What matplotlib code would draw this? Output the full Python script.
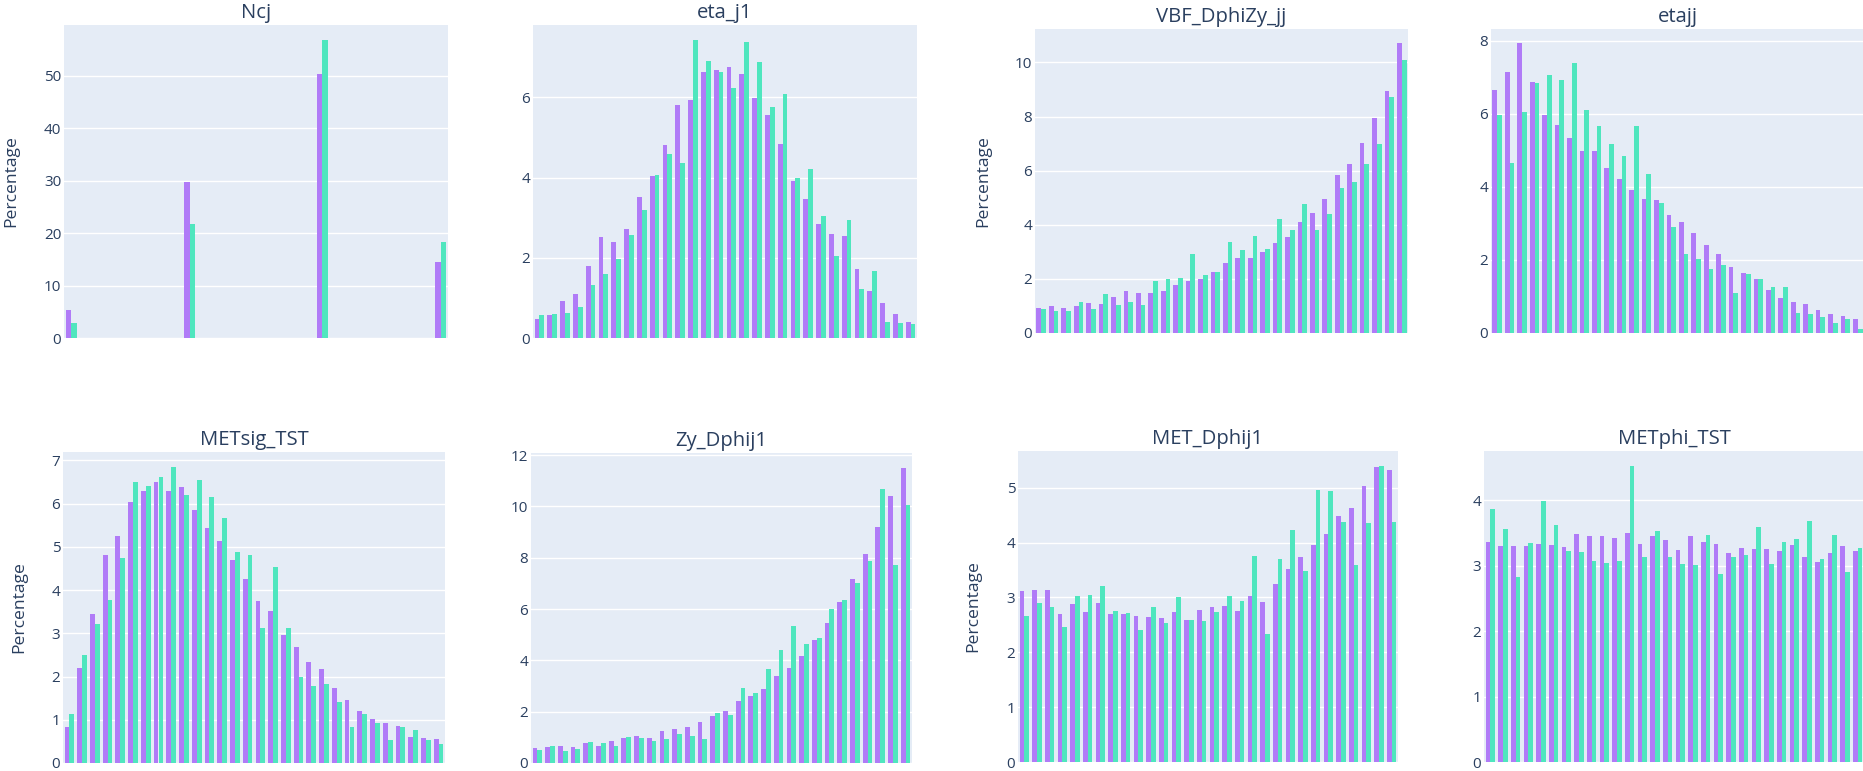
import matplotlib.pyplot as plt
import numpy as np
from matplotlib.ticker import MultipleLocator

plt.rcParams['font.family'] = ['Open Sans', 'DejaVu Sans']

W, H = 1863, 771
TXT = '#2a3f5f'
BG = '#e5ecf6'
C1 = '#b07bf7'
C2 = '#4fe6be'

titles = ["Ncj", "eta_j1", "VBF_DphiZy_jj", "etajj",
          "METsig_TST", "Zy_Dphij1", "MET_Dphij1", "METphi_TST"]

# percentage per bin, two samples per variable
ncj_1 = [5.3, 0, 0, 0, 0, 0, 0, 0, 29.8, 0, 0, 0, 0, 0, 0, 0, 0, 50.3, 0, 0, 0, 0, 0, 0, 0, 14.5]
ncj_2 = [2.9, 0, 0, 0, 0, 0, 0, 0, 21.8, 0, 0, 0, 0, 0, 0, 0, 0, 56.8, 0, 0, 0, 0, 0, 0, 0, 18.3]

eta_j1_1 = [0.47, 0.58, 0.93, 1.09, 1.80, 2.52, 2.40, 2.72, 3.52, 4.03,
            4.81, 5.81, 5.92, 6.64, 6.69, 6.76, 6.58, 5.98, 5.57, 4.84,
            3.92, 3.47, 2.83, 2.60, 2.53, 1.73, 1.17, 0.88, 0.59, 0.40]
eta_j1_2 = [0.58, 0.61, 0.63, 0.78, 1.32, 1.59, 1.97, 2.57, 3.19, 4.07,
            4.59, 4.37, 7.43, 6.91, 6.63, 6.23, 7.37, 6.88, 5.75, 6.07,
            3.98, 4.21, 3.03, 2.04, 2.94, 1.21, 1.67, 0.39, 0.37, 0.34]

vbf_1 = [0.94, 1.01, 0.93, 1.00, 1.10, 1.07, 1.32, 1.56, 1.49, 1.47,
         1.54, 1.79, 1.91, 1.99, 2.25, 2.59, 2.77, 2.79, 3.01, 3.31,
         3.56, 4.12, 4.44, 4.94, 5.85, 6.25, 7.01, 7.94, 8.96, 10.70]
vbf_2 = [0.90, 0.80, 0.80, 1.14, 0.90, 1.43, 1.05, 1.14, 1.05, 1.91,
         2.01, 2.05, 2.93, 2.16, 2.25, 3.36, 3.06, 3.60, 3.12, 4.23,
         3.80, 4.77, 3.80, 4.38, 5.35, 5.58, 6.25, 6.99, 8.72, 10.08]

etajj_1 = [6.65, 7.15, 7.92, 6.86, 5.97, 5.68, 5.33, 4.99, 4.98, 4.52,
           4.21, 3.91, 3.67, 3.63, 3.24, 3.03, 2.74, 2.40, 2.16, 1.81,
           1.64, 1.47, 1.17, 0.97, 0.85, 0.79, 0.62, 0.52, 0.47, 0.39]
etajj_2 = [5.95, 4.64, 6.05, 6.84, 7.05, 6.92, 7.38, 6.09, 5.65, 5.16,
           4.85, 5.65, 4.34, 3.56, 2.90, 2.15, 2.03, 1.76, 1.85, 1.10,
           1.62, 1.47, 1.26, 1.26, 0.56, 0.51, 0.43, 0.26, 0.37, 0.10]

metsig_1 = [0.83, 2.20, 3.44, 4.80, 5.26, 6.03, 6.29, 6.50, 6.30, 6.38,
            5.86, 5.44, 5.14, 4.69, 4.26, 3.74, 3.51, 2.97, 2.69, 2.33,
            2.18, 1.74, 1.46, 1.21, 1.02, 0.92, 0.85, 0.60, 0.57, 0.55]
metsig_2 = [1.14, 2.50, 3.21, 3.77, 4.75, 6.51, 6.41, 6.61, 6.85, 6.19,
            6.55, 6.15, 5.67, 4.87, 4.81, 3.13, 4.54, 3.12, 2.00, 1.78,
            1.82, 1.42, 0.83, 1.14, 0.93, 0.53, 0.84, 0.77, 0.53, 0.45]

zy_1 = [0.59, 0.62, 0.68, 0.64, 0.77, 0.65, 0.87, 0.96, 1.04, 0.96,
        1.26, 1.34, 1.41, 1.58, 1.84, 2.02, 2.43, 2.60, 2.90, 3.41,
        3.72, 4.17, 4.79, 5.44, 6.28, 7.16, 8.15, 9.22, 10.39, 11.51]
zy_2 = [0.49, 0.66, 0.47, 0.56, 0.81, 0.77, 0.65, 1.01, 0.99, 0.86,
        0.94, 1.12, 1.04, 0.94, 1.93, 1.89, 2.93, 2.73, 3.66, 4.40,
        5.34, 4.62, 4.88, 6.00, 6.35, 7.02, 7.89, 10.70, 7.70, 10.04]

metdphi_1 = [3.12, 3.13, 3.14, 2.69, 2.88, 2.74, 2.89, 2.70, 2.70, 2.66,
             2.65, 2.62, 2.74, 2.58, 2.78, 2.82, 2.85, 2.76, 3.02, 2.91,
             3.25, 3.52, 3.74, 3.95, 4.15, 4.49, 4.63, 5.04, 5.38, 5.32]
metdphi_2 = [2.67, 2.90, 2.83, 2.47, 3.03, 3.05, 3.21, 2.76, 2.71, 2.41,
             2.83, 2.54, 3.01, 2.59, 2.57, 2.73, 3.03, 2.94, 3.76, 2.33,
             3.71, 4.23, 3.49, 4.96, 4.94, 4.38, 3.60, 4.36, 5.40, 4.37]

metphi_1 = [3.37, 3.31, 3.31, 3.31, 3.34, 3.32, 3.29, 3.48, 3.46, 3.46,
            3.42, 3.51, 3.34, 3.46, 3.39, 3.24, 3.45, 3.36, 3.34, 3.20,
            3.27, 3.26, 3.26, 3.23, 3.32, 3.14, 3.06, 3.20, 3.30, 3.23]
metphi_2 = [3.87, 3.57, 2.83, 3.35, 3.99, 3.63, 3.23, 3.21, 3.07, 3.05,
            3.07, 4.53, 3.13, 3.53, 3.13, 3.03, 3.01, 3.47, 2.87, 3.13,
            3.17, 3.59, 3.03, 3.37, 3.41, 3.68, 3.10, 3.47, 2.90, 3.27]

series = [(ncj_1, ncj_2), (eta_j1_1, eta_j1_2), (vbf_1, vbf_2), (etajj_1, etajj_2),
          (metsig_1, metsig_2), (zy_1, zy_2), (metdphi_1, metdphi_2), (metphi_1, metphi_2)]
ystep = [10, 2, 2, 2, 1, 2, 1, 1]
has_ylabel = [True, False, True, False, True, False, True, False]

# axes boxes in pixels: left, top, right, bottom
boxes = [(64, 25, 448, 338), (533, 25, 917, 338), (1035, 29, 1408, 333), (1491, 29, 1864, 333),
         (63, 452, 445, 763), (531, 453, 912, 763), (1018, 451, 1398, 762), (1484, 451, 1864, 762)]
ylabel_x = [11, None, 983, None, 19, None, 973, None]

fig = plt.figure(figsize=(W / 100, H / 100), dpi=100)

for i in range(8):
    l, t, r, b = boxes[i]
    ax = fig.add_axes([l / W, 1 - b / H, (r - l) / W, (b - t) / H])
    ax.set_facecolor(BG)
    s1, s2 = series[i]
    x = np.arange(len(s1))
    w = 0.38
    ax.bar(x - w / 2, s1, width=w, color=C1, linewidth=0, zorder=3)
    ax.bar(x + w / 2, s2, width=w, color=C2, linewidth=0, zorder=3)
    ax.set_xlim(-0.5, len(s1) - 0.5)
    ax.set_ylim(0, max(max(s1), max(s2)) * 1.05)
    ax.yaxis.set_major_locator(MultipleLocator(ystep[i]))
    ax.grid(axis='y', color='white', linewidth=1, zorder=0)
    ax.set_axisbelow(True)
    ax.set_xticks([])
    ax.tick_params(axis='y', length=0, pad=2, labelsize=11, labelcolor=TXT)
    for sp in ax.spines.values():
        sp.set_visible(False)
    ax.set_title(titles[i], fontsize=14.6, color=TXT, pad=5)
    if has_ylabel[i]:
        fig.text(ylabel_x[i] / W, 1 - (t + b) / 2 / H, 'Percentage', rotation=90,
                 ha='center', va='center', fontsize=12.6, color=TXT)

fig.savefig('out.png', dpi=100, facecolor='white')
